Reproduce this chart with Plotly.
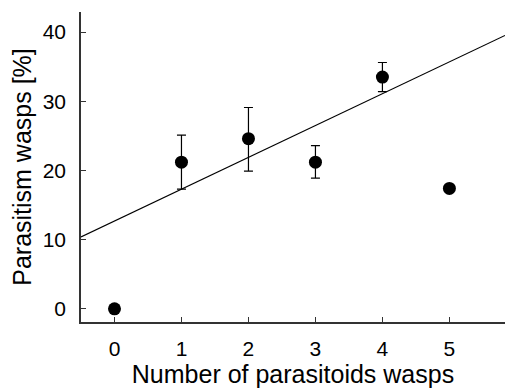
import plotly.graph_objects as go

# data
wasps = [0, 1, 2, 3, 4, 5]
parasitism = [0.0, 21.2, 24.6, 21.2, 33.5, 17.4]
err_plus = [None, 3.9, 4.5, 2.4, 2.1, None]
err_minus = [None, 3.9, 4.7, 2.3, 2.1, None]
fit_intercept = 12.7
fit_slope = 4.6
x_tick_vals = [0, 1, 2, 3, 4, 5]
y_tick_vals = [0, 10, 20, 30, 40]

x_range = [-0.5, 5.83]
y_range = [-1.9, 42.9]

fit_x = x_range
fit_y = [fit_intercept + fit_slope * v for v in fit_x]

ep = [e if e is not None else 0 for e in err_plus]
em = [e if e is not None else 0 for e in err_minus]
vis_idx = [i for i, e in enumerate(err_plus) if e is not None]

fig = go.Figure()
fig.add_trace(go.Scatter(x=fit_x, y=fit_y, mode="lines",
                         line=dict(color="black", width=1.1), showlegend=False,
                         hoverinfo="skip"))
fig.add_trace(go.Scatter(
    x=[wasps[i] for i in vis_idx], y=[parasitism[i] for i in vis_idx], mode="markers",
    marker=dict(size=1, color="rgba(0,0,0,0)"),
    error_y=dict(type="data", symmetric=False,
                 array=[ep[i] for i in vis_idx], arrayminus=[em[i] for i in vis_idx],
                 color="black", thickness=1.2, width=4.5),
    showlegend=False))
fig.add_trace(go.Scatter(x=wasps, y=parasitism, mode="markers",
                         marker=dict(size=13, color="black"), showlegend=False))

fam = "Liberation Sans, Arial, sans-serif"
tick_font = dict(family=fam, size=21, color="black")
title_font = dict(family=fam, size=25, color="black")
fig.update_layout(
    width=505, height=388,
    margin=dict(l=81, r=0, t=12, b=66),
    plot_bgcolor="white", paper_bgcolor="white",
    font=tick_font,
    xaxis=dict(range=x_range, tickvals=x_tick_vals, ticks="inside", ticklen=5,
               tickcolor="#333", showline=True, linecolor="#333", linewidth=1.5,
               showgrid=False, zeroline=False, ticklabelstandoff=7, tickfont=tick_font,
               title=dict(text="Number of parasitoids wasps", font=title_font, standoff=0)),
    yaxis=dict(range=y_range, tickvals=y_tick_vals, ticks="inside", ticklen=5,
               tickcolor="#333", showline=True, linecolor="#333", linewidth=1.5,
               showgrid=False, zeroline=False, ticklabelstandoff=9, tickfont=tick_font,
               title=dict(text="Parasitism wasps [%]", font=title_font, standoff=4)),
)
fig.write_html("out.html")
